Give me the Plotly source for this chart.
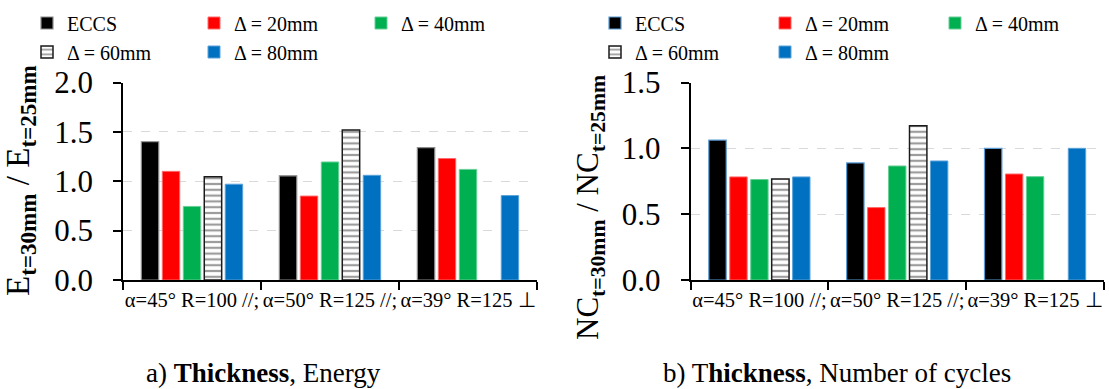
import plotly.graph_objects as go

# ---------------- data ----------------
categories = ["α=45° R=100 //;", "α=50° R=125 //;", "α=39° R=125 ⊥"]
series_names = ["ECCS", "Δ = 20mm", "Δ = 40mm", "Δ = 60mm", "Δ = 80mm"]

energy_eccs = [1.40, 1.055, 1.34]
energy_d20 = [1.10, 0.85, 1.23]
energy_d40 = [0.745, 1.195, 1.12]
energy_d60 = [1.045, 1.52, None]
energy_d80 = [0.97, 1.06, 0.855]

cycles_eccs = [1.063, 0.889, 1.0]
cycles_d20 = [0.783, 0.55, 0.805]
cycles_d40 = [0.763, 0.866, 0.785]
cycles_d60 = [0.767, 1.172, None]
cycles_d80 = [0.783, 0.904, 1.0]

energy_ticks = [0.0, 0.5, 1.0, 1.5, 2.0]
cycles_ticks = [0.0, 0.5, 1.0, 1.5]

# ---------------- styles ----------------
FONT = "Liberation Serif"
W, H = 1109, 389

styles = [
    dict(color="#000000", line_left="#8c8c8c", line_right="#5b9bd5", lw=1.2, pattern=None),
    dict(color="#ff0000", line_left="#ff6a6a", line_right="#ff6a6a", lw=1.0, pattern=None),
    dict(color="#00b050", line_left="#66cf96", line_right="#66cf96", lw=1.0, pattern=None),
    dict(color="#ffffff", line_left="#1a1a1a", line_right="#1a1a1a", lw=1.5,
         pattern=dict(shape="-", fgcolor="#3a3a3a", bgcolor="#ffffff", size=5.8,
                      solidity=0.38, fillmode="overlay")),
    dict(color="#0070c0", line_left="#5ba3d9", line_right="#5ba3d9", lw=1.0, pattern=None),
]

energy_series = [energy_eccs, energy_d20, energy_d40, energy_d60, energy_d80]
cycles_series = [cycles_eccs, cycles_d20, cycles_d40, cycles_d60, cycles_d80]

fig = go.Figure()

def add_bars(series, xa, ya, side, legends):
    for i, (name, vals) in enumerate(zip(series_names, series)):
        st = styles[i]
        marker = dict(color=st["color"],
                      line=dict(color=st["line_" + side], width=st["lw"]))
        if st["pattern"]:
            marker["pattern"] = st["pattern"]
        fig.add_trace(go.Bar(
            x=categories, y=vals, name=name, marker=marker,
            xaxis=xa, yaxis=ya,
            legend=legends[0] if i < 3 else legends[1],
            showlegend=True,
        ))

add_bars(energy_series, "x", "y", "left", ["legend", "legend2"])
add_bars(cycles_series, "x2", "y2", "right", ["legend3", "legend4"])

y_top = 1 - 82.5 / H
y_bot = 1 - 280 / H

xcommon = dict(
    type="category", range=[-0.5, 2.5], showline=True, linecolor="#000000",
    linewidth=1.5, ticks="outside", ticklen=8, tickwidth=1.5, tickcolor="#000000",
    tickson="boundaries", showgrid=False, zeroline=False, tickangle=0,
    tickfont=dict(family=FONT, size=20.5, color="#000000"), ticklabelstandoff=1,
)
ycommon = dict(
    showline=True, linecolor="#000000", linewidth=1.5, ticks="outside",
    ticklen=8, tickwidth=1.5, tickcolor="#000000", tickformat=".1f",
    showgrid=True, gridcolor="#d9d9d9", gridwidth=1, griddash="dash",
    zeroline=False, tickfont=dict(family=FONT, size=31, color="#000000"),
    ticklabelstandoff=14,
)

legend_common = dict(
    orientation="h", xanchor="left", yanchor="middle",
    font=dict(family=FONT, size=20, color="#000000"),
    bgcolor="rgba(0,0,0,0)", borderwidth=0, entrywidthmode="pixels",
    itemclick=False, itemdoubleclick=False,
)

fig.update_layout(
    width=W, height=H, margin=dict(l=0, r=0, t=0, b=0, autoexpand=False),
    paper_bgcolor="#ffffff", plot_bgcolor="#ffffff",
    font=dict(family=FONT, color="#000000"),
    barmode="group", bargap=0.24, bargroupgap=0.17,
    xaxis=dict(domain=[123 / W, 537 / W], anchor="y", **xcommon),
    yaxis=dict(domain=[y_bot, y_top], anchor="x", range=[0, 2.0],
               tickvals=energy_ticks, **ycommon),
    xaxis2=dict(domain=[690.5 / W, 1104 / W], anchor="y2", **xcommon),
    yaxis2=dict(domain=[y_bot, y_top], anchor="x2", range=[0, 1.5],
                tickvals=cycles_ticks, **ycommon),
    legend=dict(x=27 / W, y=1 - 23 / H, entrywidth=122, **legend_common),
    legend2=dict(x=27 / W, y=1 - 52 / H, entrywidth=122, **legend_common),
    legend3=dict(x=595 / W, y=1 - 23 / H, entrywidth=125, **legend_common),
    legend4=dict(x=595 / W, y=1 - 52 / H, entrywidth=125, **legend_common),
    showlegend=True,
)

# y-axis titles
fig.add_annotation(
    text="E<sub><b>t=30mm</b></sub> / E<sub><b>t=25mm</b></sub>",
    xref="paper", yref="paper", x=20 / W, y=1 - 181 / H,
    xanchor="center", yanchor="middle", textangle=-90, showarrow=False,
    font=dict(family=FONT, size=33, color="#000000"),
)
fig.add_annotation(
    text="NC<sub><b>t=30mm</b></sub> / NC<sub><b>t=25mm</b></sub>",
    xref="paper", yref="paper", x=590 / W, y=1 - 208 / H,
    xanchor="center", yanchor="middle", textangle=-90, showarrow=False,
    font=dict(family=FONT, size=31, color="#000000"),
)

# captions
fig.add_annotation(
    text="a) <b>Thickness</b>, Energy", xref="paper", yref="paper",
    x=263 / W, y=1 - 373 / H, xanchor="center", yanchor="middle",
    showarrow=False, font=dict(family=FONT, size=27, color="#000000"),
)
fig.add_annotation(
    text="b) T<b>hickness</b>, Number of cycles", xref="paper", yref="paper",
    x=837 / W, y=1 - 373 / H, xanchor="center", yanchor="middle",
    showarrow=False, font=dict(family=FONT, size=27, color="#000000"),
)

fig.write_html("out.html")
